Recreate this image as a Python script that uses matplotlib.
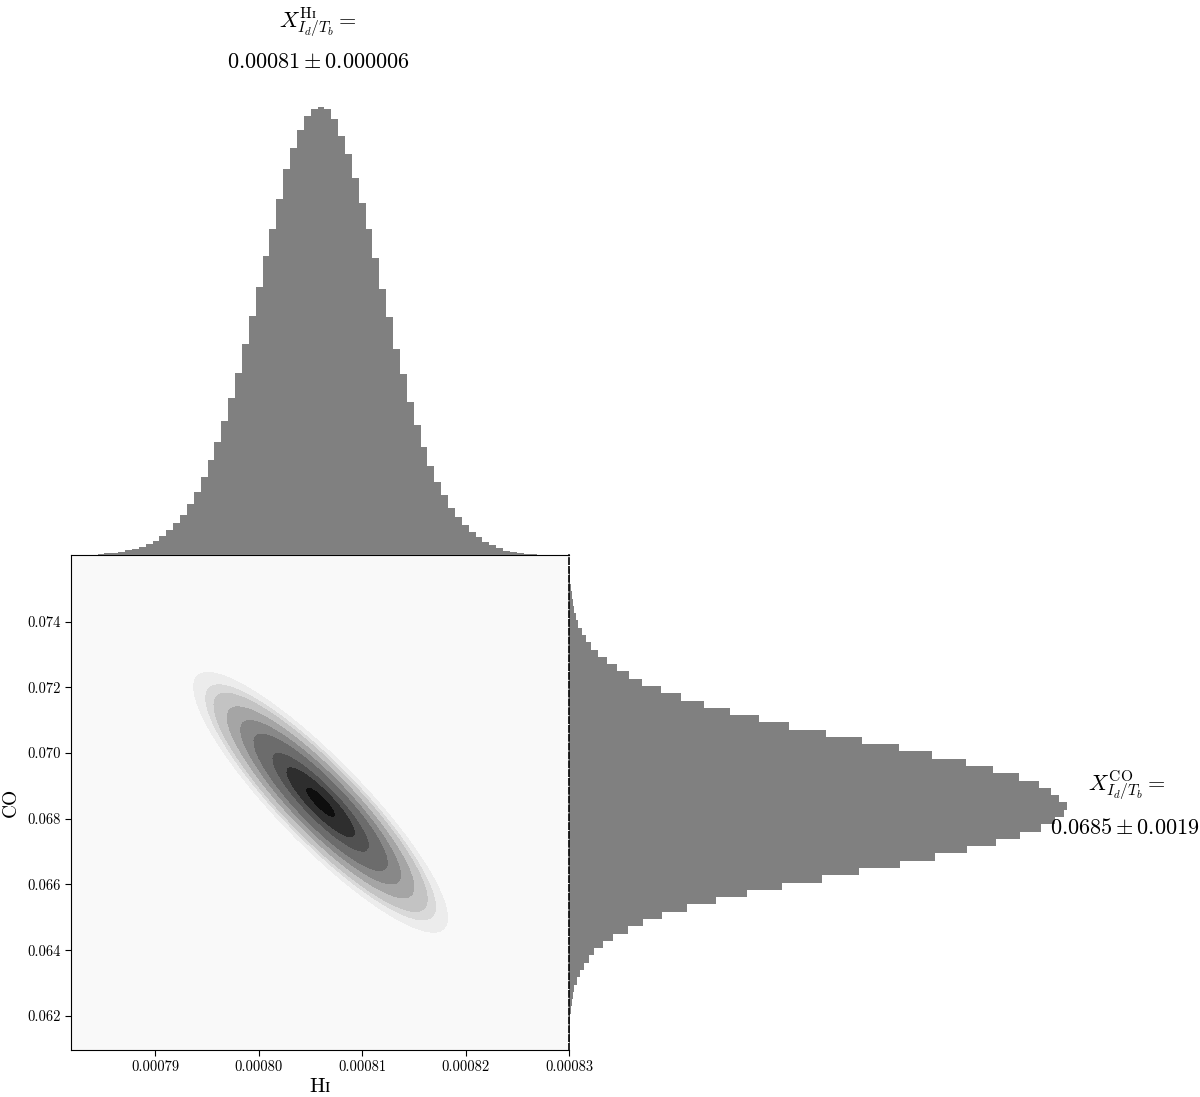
import numpy as np
import matplotlib
matplotlib.use('Agg')
import matplotlib.pyplot as plt
from matplotlib.ticker import FormatStrFormatter

plt.rcParams['font.family'] = 'serif'
plt.rcParams['font.serif'] = ['cmr10', 'STIXGeneral', 'DejaVu Serif']
plt.rcParams['mathtext.fontset'] = 'cm'
plt.rcParams['axes.unicode_minus'] = False
plt.rcParams['axes.formatter.use_mathtext'] = True

# HI marginal (bar heights, arbitrary units), regular bins
hi_first_edge = 0.00078246
hi_bin = 6.64e-7
hi_counts = [0.2, 0.3, 0.5, 1, 2, 2, 3, 5, 6, 8, 11, 14, 19, 25, 32, 40, 51, 63, 78, 95,
             113, 134, 157, 182, 211, 239, 268, 299, 326, 356, 386, 407, 425, 439, 446,
             448, 446, 436, 419, 401, 377, 352, 326, 297, 266, 238, 206, 181, 153, 130,
             108, 89, 73, 60, 47, 38, 30, 23, 18, 13, 10, 7, 4, 3, 2, 1, 1]

# CO marginal, from low to high CO
co_first_edge = 0.060958
co_bin = 0.0002217
co_counts = [0.3, 0.5, 0.5, 1, 1, 1.5, 2.5, 3.5, 5, 8, 11, 15, 20, 25, 34, 44, 59, 74, 93,
             118, 147, 178, 213, 253, 290, 331, 366, 398, 427, 451, 472, 486, 495, 498,
             490, 482, 470, 450, 424, 397, 363, 330, 293, 257, 220, 190, 161, 135, 112,
             92, 73, 60, 48, 38, 29, 22, 17, 13, 9, 7, 5, 3.5, 2.5, 1.7, 1, 0.5, 0.3, 0.2]

# joint posterior summary
hi_mean, hi_sig = 0.000806, 0.58e-5
co_mean, co_sig = 0.0685, 0.00187
rho = -0.89
# contour sizes (in sigma units), outermost first
contour_r = [2.115, 1.914, 1.777, 1.555, 1.332, 1.112, 0.797, 0.565, 0.241]

hi_lim = (0.00078188, 0.00083)
co_lim = (0.06096, 0.07603)
hi_ticks = [0.00079, 0.00080, 0.00081, 0.00082, 0.00083]
co_ticks = [0.062, 0.064, 0.066, 0.068, 0.070, 0.072, 0.074]

W, H = 1200, 1097
fig = plt.figure(figsize=(W / 100, H / 100), dpi=100)

x0, x1 = 71, 569
ytop, ybot = 555, 1050
ax = fig.add_axes([x0 / W, 1 - ybot / H, (x1 - x0) / W, (ybot - ytop) / H])
ax_top = fig.add_axes([x0 / W, 1 - ytop / H, (x1 - x0) / W, (ytop - 100) / H])
ax_right = fig.add_axes([x1 / W, 1 - ybot / H, 498 / W, (ybot - ytop) / H])

# joint density
gx = np.linspace(hi_lim[0], hi_lim[1], 140)
gy = np.linspace(co_lim[0], co_lim[1], 140)
X, Y = np.meshgrid(gx, gy)
u = (X - hi_mean) / hi_sig
v = (Y - co_mean) / co_sig
r2 = (u**2 - 2 * rho * u * v + v**2) / (1 - rho**2)
Z = np.exp(-r2 / 2)
levels = [-1] + [np.exp(-r**2 / 2) for r in contour_r] + [1.01]
colors = plt.cm.Greys(np.linspace(0.05, 0.95, len(levels) - 1))
ax.contourf(X, Y, Z, levels=levels, colors=colors)

ax.set_xlim(hi_lim)
ax.set_ylim(co_lim)
ax.set_xticks(hi_ticks)
ax.set_yticks(co_ticks)
ax.xaxis.set_major_formatter(FormatStrFormatter('%.5f'))
ax.yaxis.set_major_formatter(FormatStrFormatter('%.3f'))
ax.tick_params(labelsize=10.5, direction='out', length=4)
ax.spines['right'].set_visible(False)
ax.set_xlabel(r'$\mathrm{H}\mathrm{ɪ}$', fontsize=15, labelpad=3)
ax.set_ylabel('CO', fontsize=14, labelpad=5)

# top marginal
hi_edges = hi_first_edge + hi_bin * np.arange(len(hi_counts) + 1)
ax_top.stairs(hi_counts, hi_edges, fill=True, color='grey', linewidth=0)
ax_top.set_xlim(hi_lim)
ax_top.set_ylim(0, 455)
ax_top.axis('off')

# right marginal
co_edges = co_first_edge + co_bin * np.arange(len(co_counts) + 1)
ax_right.stairs(co_counts, co_edges, fill=True, color='grey', linewidth=0,
                orientation='horizontal')
ax_right.set_ylim(co_lim)
ax_right.set_xlim(0, 498)
ax_right.set_xticks([])
ax_right.set_yticks([])
for s in ['top', 'right', 'bottom']:
    ax_right.spines[s].set_visible(False)
ax_right.spines['left'].set_linestyle('--')
ax_right.spines['left'].set_linewidth(1.2)
ax_right.patch.set_alpha(0)

fig.text(318 / W, 1 - 22 / H, r'$X^{\mathrm{H}\mathrm{ɪ}}_{I_d/T_b} =$', fontsize=16,
         ha='center', va='center')
fig.text(318 / W, 1 - 62 / H, r'$0.00081 \pm 0.000006$', fontsize=16,
         ha='center', va='center')
fig.text(1127 / W, 1 - 785 / H, r'$X^{\mathrm{CO}}_{I_d/T_b} =$', fontsize=16,
         ha='center', va='center')
fig.text(1125 / W, 1 - 828 / H, r'$0.0685 \pm 0.0019$', fontsize=16,
         ha='center', va='center')

fig.savefig('out.png', dpi=100)
